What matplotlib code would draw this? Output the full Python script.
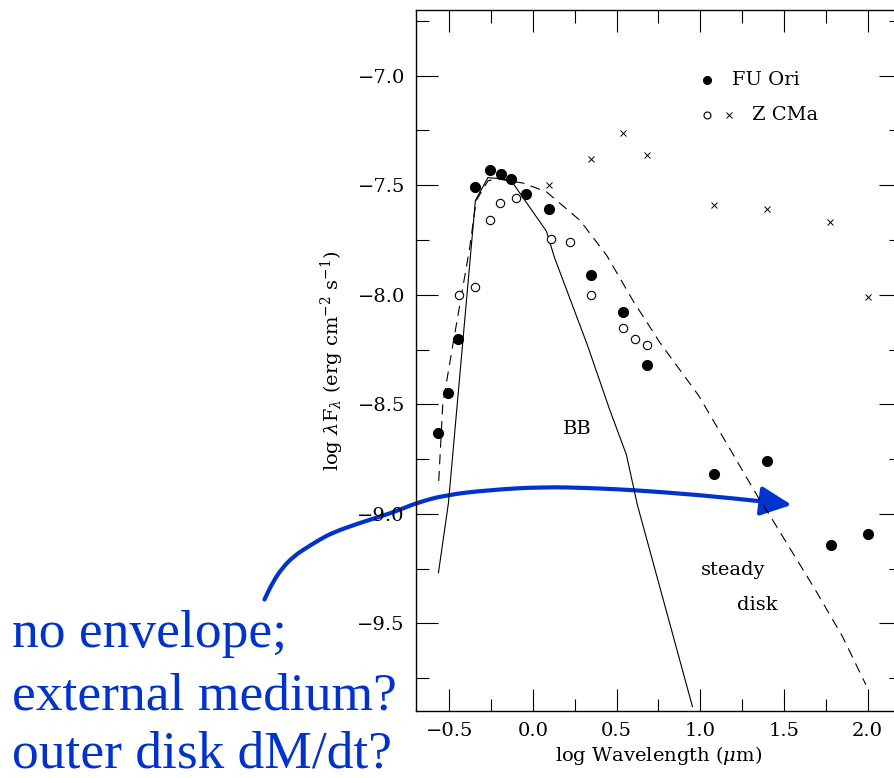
import numpy as np
import matplotlib
matplotlib.use('Agg')
import matplotlib.pyplot as plt
from matplotlib.patches import FancyArrowPatch
from matplotlib.path import Path
from matplotlib.ticker import MultipleLocator

plt.rcParams['font.family'] = 'DejaVu Serif'
plt.rcParams['mathtext.fontset'] = 'dejavuserif'

# FU Ori photometry (filled dots)
fu_x = [-0.57, -0.51, -0.45, -0.345, -0.255, -0.19, -0.13, -0.045, 0.095, 0.345, 0.54, 0.68, 1.08, 1.40, 1.78, 2.0]
fu_y = [-8.63, -8.45, -8.20, -7.51, -7.43, -7.45, -7.47, -7.54, -7.61, -7.91, -8.08, -8.32, -8.82, -8.76, -9.14, -9.09]

# Z CMa photometry (open circles and crosses)
zc_x = [-0.445, -0.35, -0.26, -0.195, -0.105, 0.108, 0.22, 0.345, 0.54, 0.61, 0.683]
zc_y = [-8.00, -7.965, -7.66, -7.58, -7.56, -7.745, -7.76, -8.00, -8.15, -8.20, -8.23]
zx_x = [0.096, 0.345, 0.54, 0.683, 1.082, 1.397, 1.778, 2.0]
zx_y = [-7.50, -7.38, -7.26, -7.36, -7.59, -7.61, -7.67, -8.01]

# blackbody model (solid)
bb_x = [-0.566, -0.506, -0.345, -0.27, -0.20, -0.13, 0.08, 0.128, 0.325, 0.456, 0.558, 0.624, 0.953]
bb_y = [-9.27, -8.95, -7.57, -7.465, -7.47, -7.48, -7.71, -7.83, -8.23, -8.52, -8.73, -8.96, -9.88]

# steady disk model (dashed)
sd_x = [-0.564, -0.54, -0.48, -0.38, -0.34, -0.27, -0.22, -0.06, 0.08, 0.28, 0.44, 0.60, 0.76, 0.99, 1.35, 1.41, 1.69, 1.85, 1.99]
sd_y = [-8.85, -8.50, -8.23, -7.79, -7.57, -7.48, -7.47, -7.49, -7.53, -7.66, -7.82, -8.03, -8.22, -8.46, -8.93, -9.00, -9.35, -9.56, -9.78]

# hand-drawn annotation arrow (data units)
arr_x = [-1.606, -1.558, -1.498, -1.427, -1.355, -1.277, -1.199, -1.050, -0.900, -0.798,
         -0.697, -0.524, -0.261, 0.056, 0.337, 0.594, 0.995, 1.396, 1.546]
arr_y = [-9.391, -9.314, -9.245, -9.191, -9.155, -9.118, -9.086, -9.045, -9.009, -8.982,
         -8.950, -8.914, -8.891, -8.877, -8.882, -8.891, -8.914, -8.945, -8.959]

note_lines = ['no envelope;', 'external medium?', 'outer disk dM/dt?']


def smooth_path(xs, ys):
    # quadratic bezier through midpoints, traced points act as control points
    pts = list(zip(xs, ys))
    verts = [pts[0]]
    codes = [Path.MOVETO]
    verts.append(((pts[0][0] + pts[1][0]) / 2, (pts[0][1] + pts[1][1]) / 2))
    codes.append(Path.LINETO)
    for i in range(1, len(pts) - 1):
        mid = ((pts[i][0] + pts[i + 1][0]) / 2, (pts[i][1] + pts[i + 1][1]) / 2)
        verts += [pts[i], mid]
        codes += [Path.CURVE3, Path.CURVE3]
    verts.append(pts[-1])
    codes.append(Path.LINETO)
    return Path(verts, codes)


fig = plt.figure(figsize=(8.95, 7.78), dpi=100)
ax = fig.add_axes([416 / 895, 67 / 778, 485 / 895, 701 / 778])

ax.plot(bb_x, bb_y, color='black', lw=0.8)
ax.plot(sd_x, sd_y, color='black', lw=0.8, dashes=(9, 6))
ax.plot(fu_x, fu_y, 'o', color='black', ms=7)
ax.plot(zc_x, zc_y, 'o', mfc='white', mec='black', mew=0.8, ms=6)
ax.plot(zx_x, zx_y, 'x', color='black', mew=0.7, ms=4.5)

# legend drawn by hand
ax.plot([1.039], [-7.018], 'o', color='black', ms=5.5)
ax.text(1.19, -7.018, 'FU Ori', fontsize=14, va='center')
ax.plot([1.039], [-7.18], 'o', mfc='white', mec='black', mew=0.8, ms=5)
ax.plot([1.17], [-7.18], 'x', color='black', mew=0.7, ms=4.5)
ax.text(1.31, -7.18, 'Z CMa', fontsize=14, va='center')

ax.text(0.267, -8.614, 'BB', fontsize=14, ha='center', va='center')
ax.text(1.195, -9.255, 'steady', fontsize=14, ha='center', va='center')
ax.text(1.341, -9.414, 'disk', fontsize=14, ha='center', va='center')

ax.set_xlim(-0.7, 2.2)
ax.set_ylim(-9.9, -6.7)
ax.xaxis.set_major_locator(MultipleLocator(0.5))
ax.xaxis.set_minor_locator(MultipleLocator(0.25))
ax.yaxis.set_major_locator(MultipleLocator(0.5))
ax.yaxis.set_minor_locator(MultipleLocator(0.25))
ax.tick_params(which='both', direction='in', top=True, right=True, width=0.8, labelsize=14, pad=8)
ax.tick_params(which='major', length=16)
ax.tick_params(which='minor', length=9)
for s in ax.spines.values():
    s.set_linewidth(1.0)

ax.set_xlabel(r'log Wavelength ($\mu$m)', fontsize=14, labelpad=3)
ax.set_ylabel(r'log $\lambda$F$_\lambda$ (erg cm$^{-2}$ s$^{-1}$)', fontsize=14, labelpad=8)

blue = '#0033cc'
arrow = FancyArrowPatch(path=smooth_path(arr_x, arr_y),
                        arrowstyle='-|>,head_length=0.95,head_width=0.45',
                        mutation_scale=20, color=blue, lw=3, transform=ax.transData,
                        clip_on=False, capstyle='round', joinstyle='round')
ax.add_patch(arrow)

for line, base in zip(note_lines, [647, 709, 767]):
    fig.text(12 / 895, 1 - base / 778, line, color=blue, fontsize=38.5,
             family='Liberation Serif', va='baseline', ha='left')

fig.savefig('out.png', dpi=100)
